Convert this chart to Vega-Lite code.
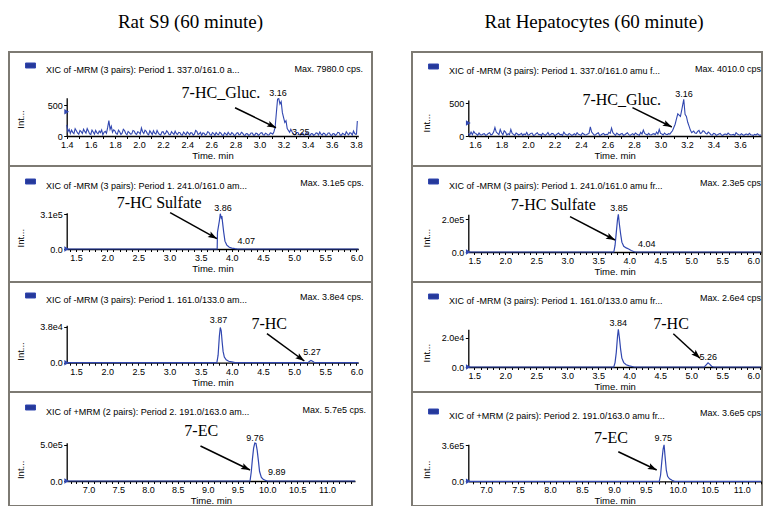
{
"$schema": "https://vega.github.io/schema/vega-lite/v6.json",
"padding": {"left": 8, "top": 12, "right": 0, "bottom": 0},
"background": "white",
"bounds": "flush",
"columns": 2,
"spacing": {"row": 0, "column": 40},
"resolve": {"scale": {"color": "independent"}},
"config": {
  "view": {"stroke": "#7d7a73", "strokeWidth": 2},
  "axis": {"grid": false, "domainColor": "black", "tickColor": "black", "labelColor": "black", "titleColor": "black", "labelFont": "Liberation Sans", "titleFont": "Liberation Sans", "labelFontSize": 9, "titleFontSize": 9.5, "titleFontWeight": "normal", "tickSize": 3, "labelPadding": 1.5, "titlePadding": 1, "labelFlush": false, "labelOverlap": false, "labelBound": false, "labelSeparation": 0, "domainWidth": 1.3, "tickWidth": 1},
  "axisX": {"tickCount": 100, "tickSize": 2.5, "labelPadding": 2},
  "axisY": {"titleAngle": 270, "titleAlign": "center", "titleBaseline": "middle"},
  "legend": {"title": null, "labelFont": "Liberation Sans", "labelFontSize": 9, "labelColor": "black", "labelLimit": 500, "labelOffset": 10, "labelBaseline": "top", "padding": 0, "rowPadding": 0, "symbolSize": 100},
  "text": {"font": "Liberation Sans", "color": "black"}
},
"concat": [
{
 "width": 363, "height": 114,
 "title": {"text": "Rat S9 (60 minute)", "font": "Liberation Serif", "fontSize": 19, "fontWeight": "normal", "color": "black", "anchor": "middle", "offset": 20},
 "data": {"values": [
{"k":"tr","t":1.40,"i":180},{"k":"tr","t":1.41,"i":70},{"k":"tr","t":1.42,"i":110},{"k":"tr","t":1.43,"i":40},{"k":"tr","t":1.44,"i":95},{"k":"tr","t":1.45,"i":60},{"k":"tr","t":1.46,"i":40},{"k":"tr","t":1.47,"i":120},{"k":"tr","t":1.48,"i":85},{"k":"tr","t":1.49,"i":50},{"k":"tr","t":1.50,"i":30},{"k":"tr","t":1.51,"i":90},{"k":"tr","t":1.52,"i":70},{"k":"tr","t":1.53,"i":40},{"k":"tr","t":1.54,"i":110},{"k":"tr","t":1.55,"i":75},{"k":"tr","t":1.56,"i":45},{"k":"tr","t":1.57,"i":120},{"k":"tr","t":1.58,"i":80},{"k":"tr","t":1.59,"i":35},{"k":"tr","t":1.60,"i":25},{"k":"tr","t":1.61,"i":95},{"k":"tr","t":1.62,"i":65},{"k":"tr","t":1.63,"i":30},{"k":"tr","t":1.64,"i":90},{"k":"tr","t":1.65,"i":55},{"k":"tr","t":1.66,"i":35},{"k":"tr","t":1.67,"i":80},{"k":"tr","t":1.68,"i":55},{"k":"tr","t":1.69,"i":100},{"k":"tr","t":1.70,"i":20},{"k":"tr","t":1.71,"i":60},{"k":"tr","t":1.72,"i":75},{"k":"tr","t":1.73,"i":45},{"k":"tr","t":1.74,"i":140},{"k":"tr","t":1.75,"i":250},{"k":"tr","t":1.76,"i":110},{"k":"tr","t":1.77,"i":160},{"k":"tr","t":1.78,"i":60},{"k":"tr","t":1.79,"i":100},{"k":"tr","t":1.80,"i":85},{"k":"tr","t":1.81,"i":40},{"k":"tr","t":1.82,"i":30},{"k":"tr","t":1.83,"i":95},{"k":"tr","t":1.84,"i":70},{"k":"tr","t":1.85,"i":25},{"k":"tr","t":1.86,"i":45},{"k":"tr","t":1.87,"i":110},{"k":"tr","t":1.88,"i":90},{"k":"tr","t":1.89,"i":40},{"k":"tr","t":1.90,"i":20},{"k":"tr","t":1.91,"i":75},{"k":"tr","t":1.92,"i":55},{"k":"tr","t":1.93,"i":30},{"k":"tr","t":1.94,"i":35},{"k":"tr","t":1.95,"i":90},{"k":"tr","t":1.96,"i":80},{"k":"tr","t":1.97,"i":40},{"k":"tr","t":1.98,"i":25},{"k":"tr","t":1.99,"i":70},{"k":"tr","t":2.00,"i":60},{"k":"tr","t":2.01,"i":30},{"k":"tr","t":2.02,"i":130},{"k":"tr","t":2.03,"i":70},{"k":"tr","t":2.04,"i":40},{"k":"tr","t":2.05,"i":95},{"k":"tr","t":2.06,"i":75},{"k":"tr","t":2.07,"i":35},{"k":"tr","t":2.08,"i":20},{"k":"tr","t":2.09,"i":85},{"k":"tr","t":2.10,"i":55},{"k":"tr","t":2.11,"i":25},{"k":"tr","t":2.12,"i":85},{"k":"tr","t":2.13,"i":45},{"k":"tr","t":2.14,"i":30},{"k":"tr","t":2.15,"i":90},{"k":"tr","t":2.16,"i":50},{"k":"tr","t":2.17,"i":25},{"k":"tr","t":2.18,"i":15},{"k":"tr","t":2.19,"i":65},{"k":"tr","t":2.20,"i":70},{"k":"tr","t":2.21,"i":30},{"k":"tr","t":2.22,"i":40},{"k":"tr","t":2.23,"i":85},{"k":"tr","t":2.24,"i":60},{"k":"tr","t":2.25,"i":20},{"k":"tr","t":2.26,"i":20},{"k":"tr","t":2.27,"i":70},{"k":"tr","t":2.28,"i":45},{"k":"tr","t":2.29,"i":25},{"k":"tr","t":2.30,"i":80},{"k":"tr","t":2.31,"i":40},{"k":"tr","t":2.32,"i":25},{"k":"tr","t":2.33,"i":60},{"k":"tr","t":2.34,"i":55},{"k":"tr","t":2.35,"i":20},{"k":"tr","t":2.36,"i":15},{"k":"tr","t":2.37,"i":65},{"k":"tr","t":2.38,"i":40},{"k":"tr","t":2.39,"i":20},{"k":"tr","t":2.40,"i":65},{"k":"tr","t":2.41,"i":45},{"k":"tr","t":2.42,"i":20},{"k":"tr","t":2.43,"i":55},{"k":"tr","t":2.44,"i":50},{"k":"tr","t":2.45,"i":15},{"k":"tr","t":2.46,"i":30},{"k":"tr","t":2.47,"i":90},{"k":"tr","t":2.48,"i":75},{"k":"tr","t":2.49,"i":25},{"k":"tr","t":2.50,"i":35},{"k":"tr","t":2.51,"i":60},{"k":"tr","t":2.52,"i":10},{"k":"tr","t":2.53,"i":50},{"k":"tr","t":2.54,"i":45},{"k":"tr","t":2.55,"i":15},{"k":"tr","t":2.56,"i":25},{"k":"tr","t":2.57,"i":70},{"k":"tr","t":2.58,"i":60},{"k":"tr","t":2.59,"i":20},{"k":"tr","t":2.60,"i":15},{"k":"tr","t":2.61,"i":55},{"k":"tr","t":2.62,"i":40},{"k":"tr","t":2.63,"i":10},{"k":"tr","t":2.64,"i":55},{"k":"tr","t":2.65,"i":30},{"k":"tr","t":2.66,"i":20},{"k":"tr","t":2.67,"i":60},{"k":"tr","t":2.68,"i":45},{"k":"tr","t":2.69,"i":15},{"k":"tr","t":2.70,"i":10},{"k":"tr","t":2.71,"i":50},{"k":"tr","t":2.72,"i":35},{"k":"tr","t":2.73,"i":15},{"k":"tr","t":2.74,"i":60},{"k":"tr","t":2.75,"i":30},{"k":"tr","t":2.76,"i":20},{"k":"tr","t":2.77,"i":55},{"k":"tr","t":2.78,"i":40},{"k":"tr","t":2.79,"i":10},{"k":"tr","t":2.80,"i":15},{"k":"tr","t":2.81,"i":45},{"k":"tr","t":2.82,"i":55},{"k":"tr","t":2.83,"i":20},{"k":"tr","t":2.84,"i":25},{"k":"tr","t":2.85,"i":60},{"k":"tr","t":2.86,"i":45},{"k":"tr","t":2.87,"i":15},{"k":"tr","t":2.88,"i":10},{"k":"tr","t":2.89,"i":40},{"k":"tr","t":2.90,"i":35},{"k":"tr","t":2.91,"i":10},{"k":"tr","t":2.92,"i":20},{"k":"tr","t":2.93,"i":50},{"k":"tr","t":2.94,"i":50},{"k":"tr","t":2.95,"i":15},{"k":"tr","t":2.96,"i":15},{"k":"tr","t":2.97,"i":45},{"k":"tr","t":2.98,"i":40},{"k":"tr","t":2.99,"i":10},{"k":"tr","t":3.00,"i":25},{"k":"tr","t":3.01,"i":50},{"k":"tr","t":3.02,"i":55},{"k":"tr","t":3.03,"i":20},{"k":"tr","t":3.04,"i":15},{"k":"tr","t":3.05,"i":45},{"k":"tr","t":3.06,"i":35},{"k":"tr","t":3.07,"i":15},{"k":"tr","t":3.08,"i":20},{"k":"tr","t":3.09,"i":50},{"k":"tr","t":3.10,"i":45},{"k":"tr","t":3.11,"i":30},{"k":"tr","t":3.12,"i":70},{"k":"tr","t":3.13,"i":150},{"k":"tr","t":3.14,"i":380},{"k":"tr","t":3.15,"i":600},{"k":"tr","t":3.16,"i":610},{"k":"tr","t":3.17,"i":520},{"k":"tr","t":3.18,"i":560},{"k":"tr","t":3.19,"i":380},{"k":"tr","t":3.20,"i":300},{"k":"tr","t":3.21,"i":220},{"k":"tr","t":3.22,"i":250},{"k":"tr","t":3.23,"i":120},{"k":"tr","t":3.24,"i":90},{"k":"tr","t":3.25,"i":60},{"k":"tr","t":3.26,"i":110},{"k":"tr","t":3.27,"i":70},{"k":"tr","t":3.28,"i":40},{"k":"tr","t":3.29,"i":20},{"k":"tr","t":3.30,"i":25},{"k":"tr","t":3.31,"i":60},{"k":"tr","t":3.32,"i":55},{"k":"tr","t":3.33,"i":20},{"k":"tr","t":3.34,"i":15},{"k":"tr","t":3.35,"i":45},{"k":"tr","t":3.36,"i":40},{"k":"tr","t":3.37,"i":10},{"k":"tr","t":3.38,"i":20},{"k":"tr","t":3.39,"i":55},{"k":"tr","t":3.40,"i":50},{"k":"tr","t":3.41,"i":15},{"k":"tr","t":3.42,"i":10},{"k":"tr","t":3.43,"i":40},{"k":"tr","t":3.44,"i":35},{"k":"tr","t":3.45,"i":10},{"k":"tr","t":3.46,"i":25},{"k":"tr","t":3.47,"i":50},{"k":"tr","t":3.48,"i":45},{"k":"tr","t":3.49,"i":15},{"k":"tr","t":3.50,"i":65},{"k":"tr","t":3.51,"i":30},{"k":"tr","t":3.52,"i":15},{"k":"tr","t":3.53,"i":45},{"k":"tr","t":3.54,"i":40},{"k":"tr","t":3.55,"i":10},{"k":"tr","t":3.56,"i":20},{"k":"tr","t":3.57,"i":50},{"k":"tr","t":3.58,"i":50},{"k":"tr","t":3.59,"i":15},{"k":"tr","t":3.60,"i":10},{"k":"tr","t":3.61,"i":40},{"k":"tr","t":3.62,"i":35},{"k":"tr","t":3.63,"i":10},{"k":"tr","t":3.64,"i":25},{"k":"tr","t":3.65,"i":60},{"k":"tr","t":3.66,"i":55},{"k":"tr","t":3.67,"i":15},{"k":"tr","t":3.68,"i":15},{"k":"tr","t":3.69,"i":45},{"k":"tr","t":3.70,"i":30},{"k":"tr","t":3.71,"i":15},{"k":"tr","t":3.72,"i":70},{"k":"tr","t":3.73,"i":40},{"k":"tr","t":3.74,"i":20},{"k":"tr","t":3.75,"i":55},{"k":"tr","t":3.76,"i":45},{"k":"tr","t":3.77,"i":15},{"k":"tr","t":3.78,"i":80},{"k":"tr","t":3.79,"i":40},{"k":"tr","t":3.80,"i":25},{"k":"tr","t":3.805,"i":30},{"k":"tr","t":3.812,"i":245},
{"k":"cp","t":2.68,"i":705,"lab":"7-HC_Gluc."},
{"k":"pk","t":3.154,"i":695,"lab":"3.16"},
{"k":"pk","t":3.343,"i":65,"lab":"3.25"},
{"k":"mx","t":3.859,"i":1096,"lab":"Max. 7980.0 cps."},
{"k":"ar","t":2.797,"i":461,"t2":3.137,"i2":135},
{"k":"mk","t":1.4,"i":396}
 ]},
 "layer": [
  {"transform":[{"filter":"datum.k==='tr'"}],"mark":{"type":"line","strokeWidth":1.1},
   "encoding":{
    "x":{"field":"t","type":"quantitative","title":"Time. min","scale":{"domain":[1.4,3.82],"range":[57.7,349.3],"nice":false,"zero":false},"axis":{"orient":"bottom","offset":-30,"values":[1.4,1.5,1.6,1.7,1.8,1.9,2.0,2.1,2.2,2.3,2.4,2.5,2.6,2.7,2.8,2.9,3.0,3.1,3.2,3.3,3.4,3.5,3.6,3.7,3.8],"format":".1f","labelExpr":"abs(datum.value*5 - round(datum.value*5)) < 0.001 ? datum.label : ''"}},
    "y":{"field":"i","type":"quantitative","title":"Int...","scale":{"domain":[0,624],"range":[84,45.7],"nice":false,"zero":false},"axis":{"orient":"left","offset":-57.7,"values":[0,500],"format":"d","titleX":-46,"titleY":67}},
    "color":{"datum":"XIC of -MRM (3 pairs): Period 1. 337.0/161.0 a...","scale":{"range":["#3147b0"]},"legend":{"orient":"none","legendX":16,"legendY":8,"symbolType":"M-1,-0.5H1V0.5H-1Z","encode":{"symbols":{"update":{"fill":{"value":"#25399a"},"stroke":{"value":"#000"},"strokeWidth":{"value":1},"opacity":{"value":1}}}}}}
   }},
  {"transform":[{"filter":"datum.k==='mk'"}],"mark":{"type":"point","shape":"triangle-right","filled":true,"size":30,"color":"#3147b0","opacity":1},
   "encoding":{"x":{"field":"t","type":"quantitative","title":"Time. min"},"y":{"field":"i","type":"quantitative","title":"Int..."}}},
  {"transform":[{"filter":"datum.k==='ar'"}],"mark":{"type":"rule","strokeWidth":1.5,"color":"black"},
   "encoding":{"x":{"field":"t","type":"quantitative","title":"Time. min"},"y":{"field":"i","type":"quantitative","title":"Int..."},"x2":{"field":"t2"},"y2":{"field":"i2"}}},
  {"transform":[{"filter":"datum.k==='ar'"}],"mark":{"type":"point","shape":"M0,0L-0.7,2L0,1.6L0.7,2Z","angle":116,"size":81,"filled":true,"color":"black","opacity":1},
   "encoding":{"x":{"field":"t2","type":"quantitative","title":"Time. min"},"y":{"field":"i2","type":"quantitative","title":"Int..."}}},
  {"transform":[{"filter":"datum.k==='cp'"}],"mark":{"type":"text","font":"Liberation Serif","fontSize":16,"align":"center","baseline":"middle"},
   "encoding":{"x":{"field":"t","type":"quantitative","title":"Time. min"},"y":{"field":"i","type":"quantitative","title":"Int..."},"text":{"field":"lab"}}},
  {"transform":[{"filter":"datum.k==='pk'"}],"mark":{"type":"text","fontSize":9,"align":"center","baseline":"middle"},
   "encoding":{"x":{"field":"t","type":"quantitative","title":"Time. min"},"y":{"field":"i","type":"quantitative","title":"Int..."},"text":{"field":"lab"}}},
  {"transform":[{"filter":"datum.k==='mx'"}],"mark":{"type":"text","fontSize":9,"align":"right","baseline":"middle"},
   "encoding":{"x":{"field":"t","type":"quantitative","title":"Time. min"},"y":{"field":"i","type":"quantitative","title":"Int..."},"text":{"field":"lab"}}}
 ]
},
{
 "width": 350, "height": 114,
 "title": {"text": "Rat Hepatocytes (60 minute)", "font": "Liberation Serif", "fontSize": 19, "fontWeight": "normal", "color": "black", "anchor": "middle", "offset": 20, "dx": 7},
 "data": {"values": [
{"k":"tr","t":1.549,"i":40},{"k":"tr","t":1.56,"i":15},{"k":"tr","t":1.57,"i":60},{"k":"tr","t":1.58,"i":20},{"k":"tr","t":1.59,"i":70},{"k":"tr","t":1.60,"i":40},{"k":"tr","t":1.61,"i":30},{"k":"tr","t":1.62,"i":10},{"k":"tr","t":1.63,"i":45},{"k":"tr","t":1.64,"i":20},{"k":"tr","t":1.65,"i":15},{"k":"tr","t":1.66,"i":30},{"k":"tr","t":1.67,"i":35},{"k":"tr","t":1.68,"i":10},{"k":"tr","t":1.69,"i":20},{"k":"tr","t":1.70,"i":40},{"k":"tr","t":1.71,"i":50},{"k":"tr","t":1.72,"i":15},{"k":"tr","t":1.73,"i":25},{"k":"tr","t":1.74,"i":60},{"k":"tr","t":1.75,"i":130},{"k":"tr","t":1.76,"i":60},{"k":"tr","t":1.77,"i":40},{"k":"tr","t":1.78,"i":20},{"k":"tr","t":1.79,"i":100},{"k":"tr","t":1.80,"i":50},{"k":"tr","t":1.81,"i":20},{"k":"tr","t":1.82,"i":80},{"k":"tr","t":1.83,"i":60},{"k":"tr","t":1.84,"i":15},{"k":"tr","t":1.85,"i":35},{"k":"tr","t":1.86,"i":20},{"k":"tr","t":1.87,"i":100},{"k":"tr","t":1.88,"i":40},{"k":"tr","t":1.89,"i":25},{"k":"tr","t":1.90,"i":10},{"k":"tr","t":1.91,"i":45},{"k":"tr","t":1.92,"i":30},{"k":"tr","t":1.93,"i":15},{"k":"tr","t":1.94,"i":25},{"k":"tr","t":1.95,"i":40},{"k":"tr","t":1.96,"i":10},{"k":"tr","t":1.97,"i":30},{"k":"tr","t":1.98,"i":20},{"k":"tr","t":1.99,"i":55},{"k":"tr","t":2.00,"i":15},{"k":"tr","t":2.01,"i":20},{"k":"tr","t":2.02,"i":40},{"k":"tr","t":2.03,"i":45},{"k":"tr","t":2.04,"i":10},{"k":"tr","t":2.05,"i":15},{"k":"tr","t":2.06,"i":35},{"k":"tr","t":2.07,"i":50},{"k":"tr","t":2.08,"i":20},{"k":"tr","t":2.09,"i":25},{"k":"tr","t":2.10,"i":10},{"k":"tr","t":2.11,"i":40},{"k":"tr","t":2.12,"i":25},{"k":"tr","t":2.13,"i":10},{"k":"tr","t":2.14,"i":30},{"k":"tr","t":2.15,"i":55},{"k":"tr","t":2.16,"i":15},{"k":"tr","t":2.17,"i":20},{"k":"tr","t":2.18,"i":40},{"k":"tr","t":2.19,"i":35},{"k":"tr","t":2.20,"i":10},{"k":"tr","t":2.21,"i":15},{"k":"tr","t":2.22,"i":30},{"k":"tr","t":2.23,"i":45},{"k":"tr","t":2.24,"i":20},{"k":"tr","t":2.25,"i":25},{"k":"tr","t":2.26,"i":10},{"k":"tr","t":2.27,"i":60},{"k":"tr","t":2.28,"i":30},{"k":"tr","t":2.29,"i":20},{"k":"tr","t":2.30,"i":15},{"k":"tr","t":2.31,"i":40},{"k":"tr","t":2.32,"i":25},{"k":"tr","t":2.33,"i":10},{"k":"tr","t":2.34,"i":20},{"k":"tr","t":2.35,"i":35},{"k":"tr","t":2.36,"i":15},{"k":"tr","t":2.37,"i":50},{"k":"tr","t":2.38,"i":25},{"k":"tr","t":2.39,"i":20},{"k":"tr","t":2.40,"i":10},{"k":"tr","t":2.41,"i":45},{"k":"tr","t":2.42,"i":30},{"k":"tr","t":2.43,"i":15},{"k":"tr","t":2.44,"i":20},{"k":"tr","t":2.45,"i":30},{"k":"tr","t":2.46,"i":40},{"k":"tr","t":2.47,"i":140},{"k":"tr","t":2.48,"i":60},{"k":"tr","t":2.49,"i":35},{"k":"tr","t":2.50,"i":15},{"k":"tr","t":2.51,"i":20},{"k":"tr","t":2.52,"i":40},{"k":"tr","t":2.53,"i":50},{"k":"tr","t":2.54,"i":10},{"k":"tr","t":2.55,"i":15},{"k":"tr","t":2.56,"i":30},{"k":"tr","t":2.57,"i":40},{"k":"tr","t":2.58,"i":15},{"k":"tr","t":2.59,"i":25},{"k":"tr","t":2.60,"i":20},{"k":"tr","t":2.61,"i":55},{"k":"tr","t":2.62,"i":40},{"k":"tr","t":2.63,"i":120},{"k":"tr","t":2.64,"i":50},{"k":"tr","t":2.65,"i":30},{"k":"tr","t":2.66,"i":10},{"k":"tr","t":2.67,"i":45},{"k":"tr","t":2.68,"i":25},{"k":"tr","t":2.69,"i":15},{"k":"tr","t":2.70,"i":30},{"k":"tr","t":2.71,"i":40},{"k":"tr","t":2.72,"i":10},{"k":"tr","t":2.73,"i":20},{"k":"tr","t":2.74,"i":35},{"k":"tr","t":2.75,"i":50},{"k":"tr","t":2.76,"i":20},{"k":"tr","t":2.77,"i":10},{"k":"tr","t":2.78,"i":25},{"k":"tr","t":2.79,"i":35},{"k":"tr","t":2.80,"i":15},{"k":"tr","t":2.81,"i":45},{"k":"tr","t":2.82,"i":30},{"k":"tr","t":2.83,"i":20},{"k":"tr","t":2.84,"i":10},{"k":"tr","t":2.85,"i":55},{"k":"tr","t":2.86,"i":30},{"k":"tr","t":2.87,"i":90},{"k":"tr","t":2.88,"i":40},{"k":"tr","t":2.89,"i":25},{"k":"tr","t":2.90,"i":15},{"k":"tr","t":2.91,"i":40},{"k":"tr","t":2.92,"i":20},{"k":"tr","t":2.93,"i":15},{"k":"tr","t":2.94,"i":30},{"k":"tr","t":2.95,"i":35},{"k":"tr","t":2.96,"i":20},{"k":"tr","t":2.97,"i":60},{"k":"tr","t":2.98,"i":30},{"k":"tr","t":2.99,"i":100},{"k":"tr","t":3.00,"i":40},{"k":"tr","t":3.01,"i":30},{"k":"tr","t":3.02,"i":15},{"k":"tr","t":3.03,"i":45},{"k":"tr","t":3.04,"i":25},{"k":"tr","t":3.05,"i":20},{"k":"tr","t":3.06,"i":35},{"k":"tr","t":3.07,"i":30},{"k":"tr","t":3.08,"i":55},{"k":"tr","t":3.09,"i":80},{"k":"tr","t":3.10,"i":130},{"k":"tr","t":3.11,"i":180},{"k":"tr","t":3.12,"i":260},{"k":"tr","t":3.13,"i":340},{"k":"tr","t":3.14,"i":320},{"k":"tr","t":3.15,"i":300},{"k":"tr","t":3.16,"i":400},{"k":"tr","t":3.175,"i":560},{"k":"tr","t":3.185,"i":330},{"k":"tr","t":3.195,"i":300},{"k":"tr","t":3.205,"i":210},{"k":"tr","t":3.215,"i":150},{"k":"tr","t":3.225,"i":90},{"k":"tr","t":3.235,"i":50},{"k":"tr","t":3.25,"i":75},{"k":"tr","t":3.26,"i":45},{"k":"tr","t":3.27,"i":40},{"k":"tr","t":3.28,"i":70},{"k":"tr","t":3.29,"i":85},{"k":"tr","t":3.30,"i":40},{"k":"tr","t":3.31,"i":50},{"k":"tr","t":3.32,"i":80},{"k":"tr","t":3.33,"i":70},{"k":"tr","t":3.34,"i":40},{"k":"tr","t":3.35,"i":30},{"k":"tr","t":3.36,"i":60},{"k":"tr","t":3.37,"i":45},{"k":"tr","t":3.38,"i":20},{"k":"tr","t":3.39,"i":15},{"k":"tr","t":3.40,"i":40},{"k":"tr","t":3.41,"i":35},{"k":"tr","t":3.42,"i":10},{"k":"tr","t":3.43,"i":20},{"k":"tr","t":3.44,"i":30},{"k":"tr","t":3.45,"i":40},{"k":"tr","t":3.46,"i":15},{"k":"tr","t":3.47,"i":10},{"k":"tr","t":3.48,"i":25},{"k":"tr","t":3.49,"i":30},{"k":"tr","t":3.50,"i":20},{"k":"tr","t":3.51,"i":45},{"k":"tr","t":3.52,"i":25},{"k":"tr","t":3.53,"i":15},{"k":"tr","t":3.54,"i":20},{"k":"tr","t":3.55,"i":25},{"k":"tr","t":3.56,"i":10},{"k":"tr","t":3.57,"i":50},{"k":"tr","t":3.58,"i":30},{"k":"tr","t":3.59,"i":20},{"k":"tr","t":3.60,"i":15},{"k":"tr","t":3.61,"i":35},{"k":"tr","t":3.62,"i":20},{"k":"tr","t":3.63,"i":10},{"k":"tr","t":3.64,"i":25},{"k":"tr","t":3.65,"i":30},{"k":"tr","t":3.66,"i":15},{"k":"tr","t":3.67,"i":40},{"k":"tr","t":3.68,"i":20},{"k":"tr","t":3.69,"i":15},{"k":"tr","t":3.70,"i":10},{"k":"tr","t":3.71,"i":25},{"k":"tr","t":3.72,"i":15},{"k":"tr","t":3.73,"i":35},{"k":"tr","t":3.74,"i":20},{"k":"tr","t":3.75,"i":10},{"k":"tr","t":3.758,"i":20},
{"k":"cp","t":2.707,"i":546,"lab":"7-HC_Gluc."},
{"k":"pk","t":3.177,"i":647,"lab":"3.16"},
{"k":"mx","t":3.758,"i":1029,"lab":"Max. 4010.0 cps"},
{"k":"ar","t":2.788,"i":433,"t2":3.085,"i2":138},
{"k":"mk","t":1.549,"i":199}
 ]},
 "layer": [
  {"transform":[{"filter":"datum.k==='tr'"}],"mark":{"type":"line","strokeWidth":1.1},
   "encoding":{
    "x":{"field":"t","type":"quantitative","title":"Time. min","scale":{"domain":[1.549,3.758],"range":[56.3,349],"nice":false,"zero":false},"axis":{"orient":"bottom","offset":-30,"values":[1.6,1.7,1.8,1.9,2.0,2.1,2.2,2.3,2.4,2.5,2.6,2.7,2.8,2.9,3.0,3.1,3.2,3.3,3.4,3.5,3.6,3.7],"format":".1f","labelExpr":"abs(datum.value*5 - round(datum.value*5)) < 0.001 ? datum.label : ''"}},
    "y":{"field":"i","type":"quantitative","title":"Int...","scale":{"domain":[0,550],"range":[84,48],"nice":false,"zero":false},"axis":{"orient":"left","offset":-56.3,"values":[0,500],"format":"d","titleX":-41.6,"titleY":70.7}},
    "color":{"datum":"XIC of -MRM (3 pairs): Period 1. 337.0/161.0 amu f...","scale":{"range":["#3147b0"]},"legend":{"orient":"none","legendX":16,"legendY":9,"symbolType":"M-1,-0.5H1V0.5H-1Z","encode":{"symbols":{"update":{"fill":{"value":"#25399a"},"stroke":{"value":"#000"},"strokeWidth":{"value":1},"opacity":{"value":1}}}}}}
   }},
  {"transform":[{"filter":"datum.k==='mk'"}],"mark":{"type":"point","shape":"triangle-right","filled":true,"size":30,"color":"#3147b0","opacity":1},
   "encoding":{"x":{"field":"t","type":"quantitative","title":"Time. min"},"y":{"field":"i","type":"quantitative","title":"Int..."}}},
  {"transform":[{"filter":"datum.k==='ar'"}],"mark":{"type":"rule","strokeWidth":1.5,"color":"black"},
   "encoding":{"x":{"field":"t","type":"quantitative","title":"Time. min"},"y":{"field":"i","type":"quantitative","title":"Int..."},"x2":{"field":"t2"},"y2":{"field":"i2"}}},
  {"transform":[{"filter":"datum.k==='ar'"}],"mark":{"type":"point","shape":"M0,0L-0.7,2L0,1.6L0.7,2Z","angle":116,"size":81,"filled":true,"color":"black","opacity":1},
   "encoding":{"x":{"field":"t2","type":"quantitative","title":"Time. min"},"y":{"field":"i2","type":"quantitative","title":"Int..."}}},
  {"transform":[{"filter":"datum.k==='cp'"}],"mark":{"type":"text","font":"Liberation Serif","fontSize":16,"align":"center","baseline":"middle"},
   "encoding":{"x":{"field":"t","type":"quantitative","title":"Time. min"},"y":{"field":"i","type":"quantitative","title":"Int..."},"text":{"field":"lab"}}},
  {"transform":[{"filter":"datum.k==='pk'"}],"mark":{"type":"text","fontSize":9,"align":"center","baseline":"middle"},
   "encoding":{"x":{"field":"t","type":"quantitative","title":"Time. min"},"y":{"field":"i","type":"quantitative","title":"Int..."},"text":{"field":"lab"}}},
  {"transform":[{"filter":"datum.k==='mx'"}],"mark":{"type":"text","fontSize":9,"align":"right","baseline":"middle"},
   "encoding":{"x":{"field":"t","type":"quantitative","title":"Time. min"},"y":{"field":"i","type":"quantitative","title":"Int..."},"text":{"field":"lab"}}}
 ]
},
{
 "width": 363, "height": 116,
 "data": {"values": [
{"k":"tr","t":1.35,"i":0},{"k":"tr","t":3.765,"i":0},{"k":"tr","t":3.77,"i":150000},{"k":"tr","t":3.80,"i":250000},{"k":"tr","t":3.815,"i":315000},{"k":"tr","t":3.83,"i":280000},{"k":"tr","t":3.84,"i":295000},{"k":"tr","t":3.855,"i":220000},{"k":"tr","t":3.87,"i":150000},{"k":"tr","t":3.89,"i":70000},{"k":"tr","t":3.92,"i":35000},{"k":"tr","t":3.96,"i":15000},{"k":"tr","t":4.00,"i":8000},{"k":"tr","t":4.05,"i":3000},{"k":"tr","t":4.09,"i":0},{"k":"tr","t":6.03,"i":0},
{"k":"cp","t":2.833,"i":408300,"lab":"7-HC Sulfate"},
{"k":"pk","t":3.857,"i":369000,"lab":"3.86"},
{"k":"pk","t":4.232,"i":71500,"lab":"4.07"},
{"k":"mx","t":6.117,"i":592000,"lab":"Max. 3.1e5 cps."},
{"k":"ar","t":3.010,"i":324300,"t2":3.761,"i2":92000},
{"k":"mk","t":1.35,"i":0}
 ]},
 "layer": [
  {"transform":[{"filter":"datum.k==='tr'"}],"mark":{"type":"line","strokeWidth":1.2},
   "encoding":{
    "x":{"field":"t","type":"quantitative","title":"Time. min","scale":{"domain":[1.35,6.03],"range":[57.7,349.3],"nice":false,"zero":false},"axis":{"orient":"bottom","offset":-33,"values":[1.4,1.5,1.6,1.7,1.8,1.9,2.0,2.1,2.2,2.3,2.4,2.5,2.6,2.7,2.8,2.9,3.0,3.1,3.2,3.3,3.4,3.5,3.6,3.7,3.8,3.9,4.0,4.1,4.2,4.3,4.4,4.5,4.6,4.7,4.8,4.9,5.0,5.1,5.2,5.3,5.4,5.5,5.6,5.7,5.8,5.9,6.0],"format":".1f","labelExpr":"abs(datum.value*2 - round(datum.value*2)) < 0.001 ? datum.label : ''"}},
    "y":{"field":"i","type":"quantitative","title":"Int...","scale":{"domain":[0,324300],"range":[83,46.7],"nice":false,"zero":false},"axis":{"orient":"left","offset":-57.7,"values":[0,310000],"labelExpr":"datum.value == 0 ? '0.0' : '3.1e5'","titleX":-46,"titleY":71.7}},
    "color":{"datum":"XIC of -MRM (3 pairs): Period 1. 241.0/161.0 am...","scale":{"range":["#3147b0"]},"legend":{"orient":"none","legendX":16,"legendY":10,"symbolType":"M-1,-0.5H1V0.5H-1Z","encode":{"symbols":{"update":{"fill":{"value":"#25399a"},"stroke":{"value":"#000"},"strokeWidth":{"value":1},"opacity":{"value":1}}}}}}
   }},
  {"transform":[{"filter":"datum.k==='mk'"}],"mark":{"type":"point","shape":"triangle-right","filled":true,"size":30,"color":"#3147b0","opacity":1},
   "encoding":{"x":{"field":"t","type":"quantitative","title":"Time. min"},"y":{"field":"i","type":"quantitative","title":"Int..."}}},
  {"transform":[{"filter":"datum.k==='ar'"}],"mark":{"type":"rule","strokeWidth":1.5,"color":"black"},
   "encoding":{"x":{"field":"t","type":"quantitative","title":"Time. min"},"y":{"field":"i","type":"quantitative","title":"Int..."},"x2":{"field":"t2"},"y2":{"field":"i2"}}},
  {"transform":[{"filter":"datum.k==='ar'"}],"mark":{"type":"point","shape":"M0,0L-0.7,2L0,1.6L0.7,2Z","angle":119,"size":81,"filled":true,"color":"black","opacity":1},
   "encoding":{"x":{"field":"t2","type":"quantitative","title":"Time. min"},"y":{"field":"i2","type":"quantitative","title":"Int..."}}},
  {"transform":[{"filter":"datum.k==='cp'"}],"mark":{"type":"text","font":"Liberation Serif","fontSize":16,"align":"center","baseline":"middle"},
   "encoding":{"x":{"field":"t","type":"quantitative","title":"Time. min"},"y":{"field":"i","type":"quantitative","title":"Int..."},"text":{"field":"lab"}}},
  {"transform":[{"filter":"datum.k==='pk'"}],"mark":{"type":"text","fontSize":9,"align":"center","baseline":"middle"},
   "encoding":{"x":{"field":"t","type":"quantitative","title":"Time. min"},"y":{"field":"i","type":"quantitative","title":"Int..."},"text":{"field":"lab"}}},
  {"transform":[{"filter":"datum.k==='mx'"}],"mark":{"type":"text","fontSize":9,"align":"right","baseline":"middle"},
   "encoding":{"x":{"field":"t","type":"quantitative","title":"Time. min"},"y":{"field":"i","type":"quantitative","title":"Int..."},"text":{"field":"lab"}}}
 ]
},
{
 "width": 350, "height": 116,
 "data": {"values": [
{"k":"tr","t":1.403,"i":0},{"k":"tr","t":3.75,"i":0},{"k":"tr","t":3.77,"i":40000},{"k":"tr","t":3.79,"i":120000},{"k":"tr","t":3.81,"i":200000},{"k":"tr","t":3.823,"i":230000},{"k":"tr","t":3.84,"i":170000},{"k":"tr","t":3.86,"i":110000},{"k":"tr","t":3.88,"i":60000},{"k":"tr","t":3.91,"i":35000},{"k":"tr","t":3.95,"i":25000},{"k":"tr","t":3.99,"i":18000},{"k":"tr","t":4.03,"i":9000},{"k":"tr","t":4.07,"i":3000},{"k":"tr","t":4.10,"i":0},{"k":"tr","t":6.124,"i":0},
{"k":"cp","t":2.774,"i":285600,"lab":"7-HC Sulfate"},
{"k":"pk","t":3.834,"i":270900,"lab":"3.85"},
{"k":"pk","t":4.281,"i":47100,"lab":"4.04"},
{"k":"mx","t":6.124,"i":420000,"lab":"Max. 2.3e5 cps"},
{"k":"ar","t":3.044,"i":215900,"t2":3.769,"i2":73400},
{"k":"mk","t":1.403,"i":0}
 ]},
 "layer": [
  {"transform":[{"filter":"datum.k==='tr'"}],"mark":{"type":"line","strokeWidth":1.2},
   "encoding":{
    "x":{"field":"t","type":"quantitative","title":"Time. min","scale":{"domain":[1.403,6.124],"range":[56.3,349],"nice":false,"zero":false},"axis":{"orient":"bottom","offset":-30,"values":[1.5,1.6,1.7,1.8,1.9,2.0,2.1,2.2,2.3,2.4,2.5,2.6,2.7,2.8,2.9,3.0,3.1,3.2,3.3,3.4,3.5,3.6,3.7,3.8,3.9,4.0,4.1,4.2,4.3,4.4,4.5,4.6,4.7,4.8,4.9,5.0,5.1,5.2,5.3,5.4,5.5,5.6,5.7,5.8,5.9,6.0,6.1],"format":".1f","labelExpr":"abs(datum.value*2 - round(datum.value*2)) < 0.001 ? datum.label : ''"}},
    "y":{"field":"i","type":"quantitative","title":"Int...","scale":{"domain":[0,230600],"range":[86,48.3],"nice":false,"zero":false},"axis":{"orient":"left","offset":-56.3,"values":[0,200000],"labelExpr":"datum.value == 0 ? '0.0' : '2.0e5'","titleX":-41.6,"titleY":71.7}},
    "color":{"datum":"XIC of -MRM (3 pairs): Period 1. 241.0/161.0 amu fr...","scale":{"range":["#3147b0"]},"legend":{"orient":"none","legendX":16,"legendY":10,"symbolType":"M-1,-0.5H1V0.5H-1Z","encode":{"symbols":{"update":{"fill":{"value":"#25399a"},"stroke":{"value":"#000"},"strokeWidth":{"value":1},"opacity":{"value":1}}}}}}
   }},
  {"transform":[{"filter":"datum.k==='mk'"}],"mark":{"type":"point","shape":"triangle-right","filled":true,"size":30,"color":"#3147b0","opacity":1},
   "encoding":{"x":{"field":"t","type":"quantitative","title":"Time. min"},"y":{"field":"i","type":"quantitative","title":"Int..."}}},
  {"transform":[{"filter":"datum.k==='ar'"}],"mark":{"type":"rule","strokeWidth":1.5,"color":"black"},
   "encoding":{"x":{"field":"t","type":"quantitative","title":"Time. min"},"y":{"field":"i","type":"quantitative","title":"Int..."},"x2":{"field":"t2"},"y2":{"field":"i2"}}},
  {"transform":[{"filter":"datum.k==='ar'"}],"mark":{"type":"point","shape":"M0,0L-0.7,2L0,1.6L0.7,2Z","angle":117,"size":81,"filled":true,"color":"black","opacity":1},
   "encoding":{"x":{"field":"t2","type":"quantitative","title":"Time. min"},"y":{"field":"i2","type":"quantitative","title":"Int..."}}},
  {"transform":[{"filter":"datum.k==='cp'"}],"mark":{"type":"text","font":"Liberation Serif","fontSize":16,"align":"center","baseline":"middle"},
   "encoding":{"x":{"field":"t","type":"quantitative","title":"Time. min"},"y":{"field":"i","type":"quantitative","title":"Int..."},"text":{"field":"lab"}}},
  {"transform":[{"filter":"datum.k==='pk'"}],"mark":{"type":"text","fontSize":9,"align":"center","baseline":"middle"},
   "encoding":{"x":{"field":"t","type":"quantitative","title":"Time. min"},"y":{"field":"i","type":"quantitative","title":"Int..."},"text":{"field":"lab"}}},
  {"transform":[{"filter":"datum.k==='mx'"}],"mark":{"type":"text","fontSize":9,"align":"right","baseline":"middle"},
   "encoding":{"x":{"field":"t","type":"quantitative","title":"Time. min"},"y":{"field":"i","type":"quantitative","title":"Int..."},"text":{"field":"lab"}}}
 ]
},
{
 "width": 363, "height": 110,
 "data": {"values": [
{"k":"tr","t":1.35,"i":0},{"k":"tr","t":3.76,"i":0},{"k":"tr","t":3.78,"i":8000},{"k":"tr","t":3.80,"i":28000},{"k":"tr","t":3.815,"i":37500},{"k":"tr","t":3.83,"i":34000},{"k":"tr","t":3.845,"i":22000},{"k":"tr","t":3.86,"i":12000},{"k":"tr","t":3.88,"i":6000},{"k":"tr","t":3.91,"i":3000},{"k":"tr","t":3.95,"i":1500},{"k":"tr","t":4.0,"i":800},{"k":"tr","t":4.05,"i":0},{"k":"tr","t":5.22,"i":0},{"k":"tr","t":5.25,"i":1500},{"k":"tr","t":5.27,"i":2500},{"k":"tr","t":5.29,"i":1800},{"k":"tr","t":5.32,"i":500},{"k":"tr","t":5.35,"i":0},{"k":"tr","t":6.03,"i":0},
{"k":"cp","t":4.601,"i":40864,"lab":"7-HC"},
{"k":"pk","t":3.786,"i":45120,"lab":"3.87"},
{"k":"pk","t":5.288,"i":11706,"lab":"5.27"},
{"k":"mx","t":6.115,"i":70235,"lab":"Max. 3.8e4 cps."},
{"k":"ar","t":4.564,"i":30860,"t2":5.164,"i2":1809},
{"k":"mk","t":1.35,"i":0}
 ]},
 "layer": [
  {"transform":[{"filter":"datum.k==='tr'"}],"mark":{"type":"line","strokeWidth":1.2},
   "encoding":{
    "x":{"field":"t","type":"quantitative","title":"Time. min","scale":{"domain":[1.35,6.03],"range":[57.7,349.3],"nice":false,"zero":false},"axis":{"orient":"bottom","offset":-29.3,"values":[1.4,1.5,1.6,1.7,1.8,1.9,2.0,2.1,2.2,2.3,2.4,2.5,2.6,2.7,2.8,2.9,3.0,3.1,3.2,3.3,3.4,3.5,3.6,3.7,3.8,3.9,4.0,4.1,4.2,4.3,4.4,4.5,4.6,4.7,4.8,4.9,5.0,5.1,5.2,5.3,5.4,5.5,5.6,5.7,5.8,5.9,6.0],"format":".1f","labelExpr":"abs(datum.value*2 - round(datum.value*2)) < 0.001 ? datum.label : ''"}},
    "y":{"field":"i","type":"quantitative","title":"Int...","scale":{"domain":[0,39800],"range":[80.7,43.3],"nice":false,"zero":false},"axis":{"orient":"left","offset":-57.7,"values":[0,38000],"labelExpr":"datum.value == 0 ? '0.0' : '3.8e4'","titleX":-46,"titleY":69}},
    "color":{"datum":"XIC of -MRM (3 pairs): Period 1. 161.0/133.0 am...","scale":{"range":["#3147b0"]},"legend":{"orient":"none","legendX":16,"legendY":8,"symbolType":"M-1,-0.5H1V0.5H-1Z","encode":{"symbols":{"update":{"fill":{"value":"#25399a"},"stroke":{"value":"#000"},"strokeWidth":{"value":1},"opacity":{"value":1}}}}}}
   }},
  {"transform":[{"filter":"datum.k==='mk'"}],"mark":{"type":"point","shape":"triangle-right","filled":true,"size":30,"color":"#3147b0","opacity":1},
   "encoding":{"x":{"field":"t","type":"quantitative","title":"Time. min"},"y":{"field":"i","type":"quantitative","title":"Int..."}}},
  {"transform":[{"filter":"datum.k==='ar'"}],"mark":{"type":"rule","strokeWidth":1.5,"color":"black"},
   "encoding":{"x":{"field":"t","type":"quantitative","title":"Time. min"},"y":{"field":"i","type":"quantitative","title":"Int..."},"x2":{"field":"t2"},"y2":{"field":"i2"}}},
  {"transform":[{"filter":"datum.k==='ar'"}],"mark":{"type":"point","shape":"M0,0L-0.7,2L0,1.6L0.7,2Z","angle":126,"size":81,"filled":true,"color":"black","opacity":1},
   "encoding":{"x":{"field":"t2","type":"quantitative","title":"Time. min"},"y":{"field":"i2","type":"quantitative","title":"Int..."}}},
  {"transform":[{"filter":"datum.k==='cp'"}],"mark":{"type":"text","font":"Liberation Serif","fontSize":16,"align":"center","baseline":"middle"},
   "encoding":{"x":{"field":"t","type":"quantitative","title":"Time. min"},"y":{"field":"i","type":"quantitative","title":"Int..."},"text":{"field":"lab"}}},
  {"transform":[{"filter":"datum.k==='pk'"}],"mark":{"type":"text","fontSize":9,"align":"center","baseline":"middle"},
   "encoding":{"x":{"field":"t","type":"quantitative","title":"Time. min"},"y":{"field":"i","type":"quantitative","title":"Int..."},"text":{"field":"lab"}}},
  {"transform":[{"filter":"datum.k==='mx'"}],"mark":{"type":"text","fontSize":9,"align":"right","baseline":"middle"},
   "encoding":{"x":{"field":"t","type":"quantitative","title":"Time. min"},"y":{"field":"i","type":"quantitative","title":"Int..."},"text":{"field":"lab"}}}
 ]
},
{
 "width": 350, "height": 110,
 "data": {"values": [
{"k":"tr","t":1.403,"i":0},{"k":"tr","t":3.75,"i":0},{"k":"tr","t":3.77,"i":3000},{"k":"tr","t":3.79,"i":10000},{"k":"tr","t":3.81,"i":21000},{"k":"tr","t":3.823,"i":25700},{"k":"tr","t":3.84,"i":20000},{"k":"tr","t":3.86,"i":12000},{"k":"tr","t":3.88,"i":6000},{"k":"tr","t":3.91,"i":3000},{"k":"tr","t":3.95,"i":1500},{"k":"tr","t":4.0,"i":800},{"k":"tr","t":4.08,"i":0},{"k":"tr","t":5.21,"i":0},{"k":"tr","t":5.24,"i":1500},{"k":"tr","t":5.27,"i":2800},{"k":"tr","t":5.30,"i":1800},{"k":"tr","t":5.33,"i":400},{"k":"tr","t":5.36,"i":0},{"k":"tr","t":6.124,"i":0},
{"k":"cp","t":4.673,"i":29143,"lab":"7-HC"},
{"k":"pk","t":3.823,"i":30235,"lab":"3.84"},
{"k":"pk","t":5.274,"i":7030,"lab":"5.26"},
{"k":"mx","t":6.124,"i":46888,"lab":"Max. 2.6e4 cps"},
{"k":"ar","t":4.71,"i":22727,"t2":5.14,"i2":5938},
{"k":"mk","t":1.403,"i":0}
 ]},
 "layer": [
  {"transform":[{"filter":"datum.k==='tr'"}],"mark":{"type":"line","strokeWidth":1.2},
   "encoding":{
    "x":{"field":"t","type":"quantitative","title":"Time. min","scale":{"domain":[1.403,6.124],"range":[56.3,349],"nice":false,"zero":false},"axis":{"orient":"bottom","offset":-25,"values":[1.5,1.6,1.7,1.8,1.9,2.0,2.1,2.2,2.3,2.4,2.5,2.6,2.7,2.8,2.9,3.0,3.1,3.2,3.3,3.4,3.5,3.6,3.7,3.8,3.9,4.0,4.1,4.2,4.3,4.4,4.5,4.6,4.7,4.8,4.9,5.0,5.1,5.2,5.3,5.4,5.5,5.6,5.7,5.8,5.9,6.0,6.1],"format":".1f","labelExpr":"abs(datum.value*2 - round(datum.value*2)) < 0.001 ? datum.label : ''"}},
    "y":{"field":"i","type":"quantitative","title":"Int...","scale":{"domain":[0,25730],"range":[85,47.3],"nice":false,"zero":false},"axis":{"orient":"left","offset":-56.3,"values":[0,20000],"labelExpr":"datum.value == 0 ? '0.0' : '2.0e4'","titleX":-41.6,"titleY":70.7}},
    "color":{"datum":"XIC of -MRM (3 pairs): Period 1. 161.0/133.0 amu fr...","scale":{"range":["#3147b0"]},"legend":{"orient":"none","legendX":16,"legendY":9,"symbolType":"M-1,-0.5H1V0.5H-1Z","encode":{"symbols":{"update":{"fill":{"value":"#25399a"},"stroke":{"value":"#000"},"strokeWidth":{"value":1},"opacity":{"value":1}}}}}}
   }},
  {"transform":[{"filter":"datum.k==='mk'"}],"mark":{"type":"point","shape":"triangle-right","filled":true,"size":30,"color":"#3147b0","opacity":1},
   "encoding":{"x":{"field":"t","type":"quantitative","title":"Time. min"},"y":{"field":"i","type":"quantitative","title":"Int..."}}},
  {"transform":[{"filter":"datum.k==='ar'"}],"mark":{"type":"rule","strokeWidth":1.5,"color":"black"},
   "encoding":{"x":{"field":"t","type":"quantitative","title":"Time. min"},"y":{"field":"i","type":"quantitative","title":"Int..."},"x2":{"field":"t2"},"y2":{"field":"i2"}}},
  {"transform":[{"filter":"datum.k==='ar'"}],"mark":{"type":"point","shape":"M0,0L-0.7,2L0,1.6L0.7,2Z","angle":133,"size":81,"filled":true,"color":"black","opacity":1},
   "encoding":{"x":{"field":"t2","type":"quantitative","title":"Time. min"},"y":{"field":"i2","type":"quantitative","title":"Int..."}}},
  {"transform":[{"filter":"datum.k==='cp'"}],"mark":{"type":"text","font":"Liberation Serif","fontSize":16,"align":"center","baseline":"middle"},
   "encoding":{"x":{"field":"t","type":"quantitative","title":"Time. min"},"y":{"field":"i","type":"quantitative","title":"Int..."},"text":{"field":"lab"}}},
  {"transform":[{"filter":"datum.k==='pk'"}],"mark":{"type":"text","fontSize":9,"align":"center","baseline":"middle"},
   "encoding":{"x":{"field":"t","type":"quantitative","title":"Time. min"},"y":{"field":"i","type":"quantitative","title":"Int..."},"text":{"field":"lab"}}},
  {"transform":[{"filter":"datum.k==='mx'"}],"mark":{"type":"text","fontSize":9,"align":"right","baseline":"middle"},
   "encoding":{"x":{"field":"t","type":"quantitative","title":"Time. min"},"y":{"field":"i","type":"quantitative","title":"Int..."},"text":{"field":"lab"}}}
 ]
},
{
 "width": 363, "height": 114,
 "data": {"values": [
{"k":"tr","t":6.636,"i":0},{"k":"tr","t":9.71,"i":0},{"k":"tr","t":9.73,"i":120000},{"k":"tr","t":9.75,"i":300000},{"k":"tr","t":9.77,"i":450000},{"k":"tr","t":9.79,"i":520000},{"k":"tr","t":9.81,"i":515000},{"k":"tr","t":9.83,"i":420000},{"k":"tr","t":9.85,"i":280000},{"k":"tr","t":9.87,"i":130000},{"k":"tr","t":9.90,"i":50000},{"k":"tr","t":9.93,"i":25000},{"k":"tr","t":9.97,"i":8000},{"k":"tr","t":10.0,"i":0},{"k":"tr","t":11.47,"i":0},
{"k":"cp","t":8.891,"i":685379,"lab":"7-EC"},
{"k":"pk","t":9.793,"i":593538,"lab":"9.76"},
{"k":"pk","t":10.158,"i":123368,"lab":"9.89"},
{"k":"mx","t":11.655,"i":973238,"lab":"Max. 5.7e5 cps."},
{"k":"ar","t":8.879,"i":479765,"t2":9.709,"i2":150783},
{"k":"mk","t":6.636,"i":0}
 ]},
 "layer": [
  {"transform":[{"filter":"datum.k==='tr'"}],"mark":{"type":"line","strokeWidth":1.2},
   "encoding":{
    "x":{"field":"t","type":"quantitative","title":"Time. min","scale":{"domain":[6.636,11.47],"range":[57.7,346],"nice":false,"zero":false},"axis":{"orient":"bottom","offset":-25,"values":[6.7,6.8,6.9,7.0,7.1,7.2,7.3,7.4,7.5,7.6,7.7,7.8,7.9,8.0,8.1,8.2,8.3,8.4,8.5,8.6,8.7,8.8,8.9,9.0,9.1,9.2,9.3,9.4,9.5,9.6,9.7,9.8,9.9,10.0,10.1,10.2,10.3,10.4,10.5,10.6,10.7,10.8,10.9,11.0,11.1,11.2,11.3,11.4],"format":".1f","labelExpr":"abs(datum.value*2 - round(datum.value*2)) < 0.001 && datum.value < 11.2 ? datum.label : ''"}},
    "y":{"field":"i","type":"quantitative","title":"Int...","scale":{"domain":[0,525000],"range":[89,50.7],"nice":false,"zero":false},"axis":{"orient":"left","offset":-57.7,"values":[0,500000],"labelExpr":"datum.value == 0 ? '0.0' : '5.0e5'","titleX":-46,"titleY":77.3}},
    "color":{"datum":"XIC of +MRM (2 pairs): Period 2. 191.0/163.0 am...","scale":{"range":["#3147b0"]},"legend":{"orient":"none","legendX":16,"legendY":10,"symbolType":"M-1,-0.5H1V0.5H-1Z","encode":{"symbols":{"update":{"fill":{"value":"#25399a"},"stroke":{"value":"#000"},"strokeWidth":{"value":1},"opacity":{"value":1}}}}}}
   }},
  {"transform":[{"filter":"datum.k==='mk'"}],"mark":{"type":"point","shape":"triangle-right","filled":true,"size":30,"color":"#3147b0","opacity":1},
   "encoding":{"x":{"field":"t","type":"quantitative","title":"Time. min"},"y":{"field":"i","type":"quantitative","title":"Int..."}}},
  {"transform":[{"filter":"datum.k==='ar'"}],"mark":{"type":"rule","strokeWidth":1.5,"color":"black"},
   "encoding":{"x":{"field":"t","type":"quantitative","title":"Time. min"},"y":{"field":"i","type":"quantitative","title":"Int..."},"x2":{"field":"t2"},"y2":{"field":"i2"}}},
  {"transform":[{"filter":"datum.k==='ar'"}],"mark":{"type":"point","shape":"M0,0L-0.7,2L0,1.6L0.7,2Z","angle":116,"size":81,"filled":true,"color":"black","opacity":1},
   "encoding":{"x":{"field":"t2","type":"quantitative","title":"Time. min"},"y":{"field":"i2","type":"quantitative","title":"Int..."}}},
  {"transform":[{"filter":"datum.k==='cp'"}],"mark":{"type":"text","font":"Liberation Serif","fontSize":16,"align":"center","baseline":"middle"},
   "encoding":{"x":{"field":"t","type":"quantitative","title":"Time. min"},"y":{"field":"i","type":"quantitative","title":"Int..."},"text":{"field":"lab"}}},
  {"transform":[{"filter":"datum.k==='pk'"}],"mark":{"type":"text","fontSize":9,"align":"center","baseline":"middle"},
   "encoding":{"x":{"field":"t","type":"quantitative","title":"Time. min"},"y":{"field":"i","type":"quantitative","title":"Int..."},"text":{"field":"lab"}}},
  {"transform":[{"filter":"datum.k==='mx'"}],"mark":{"type":"text","fontSize":9,"align":"right","baseline":"middle"},
   "encoding":{"x":{"field":"t","type":"quantitative","title":"Time. min"},"y":{"field":"i","type":"quantitative","title":"Int..."},"text":{"field":"lab"}}}
 ]
},
{
 "width": 350, "height": 114,
 "data": {"values": [
{"k":"tr","t":6.723,"i":0},{"k":"tr","t":9.71,"i":0},{"k":"tr","t":9.73,"i":60000},{"k":"tr","t":9.75,"i":200000},{"k":"tr","t":9.77,"i":320000},{"k":"tr","t":9.785,"i":362000},{"k":"tr","t":9.80,"i":250000},{"k":"tr","t":9.82,"i":110000},{"k":"tr","t":9.84,"i":50000},{"k":"tr","t":9.87,"i":25000},{"k":"tr","t":9.91,"i":10000},{"k":"tr","t":9.95,"i":0},{"k":"tr","t":11.301,"i":0},
{"k":"cp","t":8.955,"i":426514,"lab":"7-EC"},
{"k":"pk","t":9.773,"i":426514,"lab":"9.75"},
{"k":"mx","t":11.301,"i":674486,"lab":"Max. 3.6e5 cps"},
{"k":"ar","t":9.069,"i":293600,"t2":9.67,"i2":112086},
{"k":"mk","t":6.723,"i":0}
 ]},
 "layer": [
  {"transform":[{"filter":"datum.k==='tr'"}],"mark":{"type":"line","strokeWidth":1.2},
   "encoding":{
    "x":{"field":"t","type":"quantitative","title":"Time. min","scale":{"domain":[6.723,11.301],"range":[56.3,349],"nice":false,"zero":false},"axis":{"orient":"bottom","offset":-24.7,"values":[6.8,6.9,7.0,7.1,7.2,7.3,7.4,7.5,7.6,7.7,7.8,7.9,8.0,8.1,8.2,8.3,8.4,8.5,8.6,8.7,8.8,8.9,9.0,9.1,9.2,9.3,9.4,9.5,9.6,9.7,9.8,9.9,10.0,10.1,10.2,10.3,10.4,10.5,10.6,10.7,10.8,10.9,11.0,11.1,11.2,11.3],"format":".1f","labelExpr":"abs(datum.value*2 - round(datum.value*2)) < 0.001 ? datum.label : ''"}},
    "y":{"field":"i","type":"quantitative","title":"Int...","scale":{"domain":[0,367000],"range":[89.3,52.3],"nice":false,"zero":false},"axis":{"orient":"left","offset":-56.3,"values":[0,360000],"labelExpr":"datum.value == 0 ? '0.0' : '3.6e5'","titleX":-41.6,"titleY":77.3}},
    "color":{"datum":"XIC of +MRM (2 pairs): Period 2. 191.0/163.0 amu fr...","scale":{"range":["#3147b0"]},"legend":{"orient":"none","legendX":16,"legendY":14,"symbolType":"M-1,-0.5H1V0.5H-1Z","encode":{"symbols":{"update":{"fill":{"value":"#25399a"},"stroke":{"value":"#000"},"strokeWidth":{"value":1},"opacity":{"value":1}}}}}}
   }},
  {"transform":[{"filter":"datum.k==='mk'"}],"mark":{"type":"point","shape":"triangle-right","filled":true,"size":30,"color":"#3147b0","opacity":1},
   "encoding":{"x":{"field":"t","type":"quantitative","title":"Time. min"},"y":{"field":"i","type":"quantitative","title":"Int..."}}},
  {"transform":[{"filter":"datum.k==='ar'"}],"mark":{"type":"rule","strokeWidth":1.5,"color":"black"},
   "encoding":{"x":{"field":"t","type":"quantitative","title":"Time. min"},"y":{"field":"i","type":"quantitative","title":"Int..."},"x2":{"field":"t2"},"y2":{"field":"i2"}}},
  {"transform":[{"filter":"datum.k==='ar'"}],"mark":{"type":"point","shape":"M0,0L-0.7,2L0,1.6L0.7,2Z","angle":115.5,"size":81,"filled":true,"color":"black","opacity":1},
   "encoding":{"x":{"field":"t2","type":"quantitative","title":"Time. min"},"y":{"field":"i2","type":"quantitative","title":"Int..."}}},
  {"transform":[{"filter":"datum.k==='cp'"}],"mark":{"type":"text","font":"Liberation Serif","fontSize":16,"align":"center","baseline":"middle"},
   "encoding":{"x":{"field":"t","type":"quantitative","title":"Time. min"},"y":{"field":"i","type":"quantitative","title":"Int..."},"text":{"field":"lab"}}},
  {"transform":[{"filter":"datum.k==='pk'"}],"mark":{"type":"text","fontSize":9,"align":"center","baseline":"middle"},
   "encoding":{"x":{"field":"t","type":"quantitative","title":"Time. min"},"y":{"field":"i","type":"quantitative","title":"Int..."},"text":{"field":"lab"}}},
  {"transform":[{"filter":"datum.k==='mx'"}],"mark":{"type":"text","fontSize":9,"align":"right","baseline":"middle"},
   "encoding":{"x":{"field":"t","type":"quantitative","title":"Time. min"},"y":{"field":"i","type":"quantitative","title":"Int..."},"text":{"field":"lab"}}}
 ]
}
]
}
